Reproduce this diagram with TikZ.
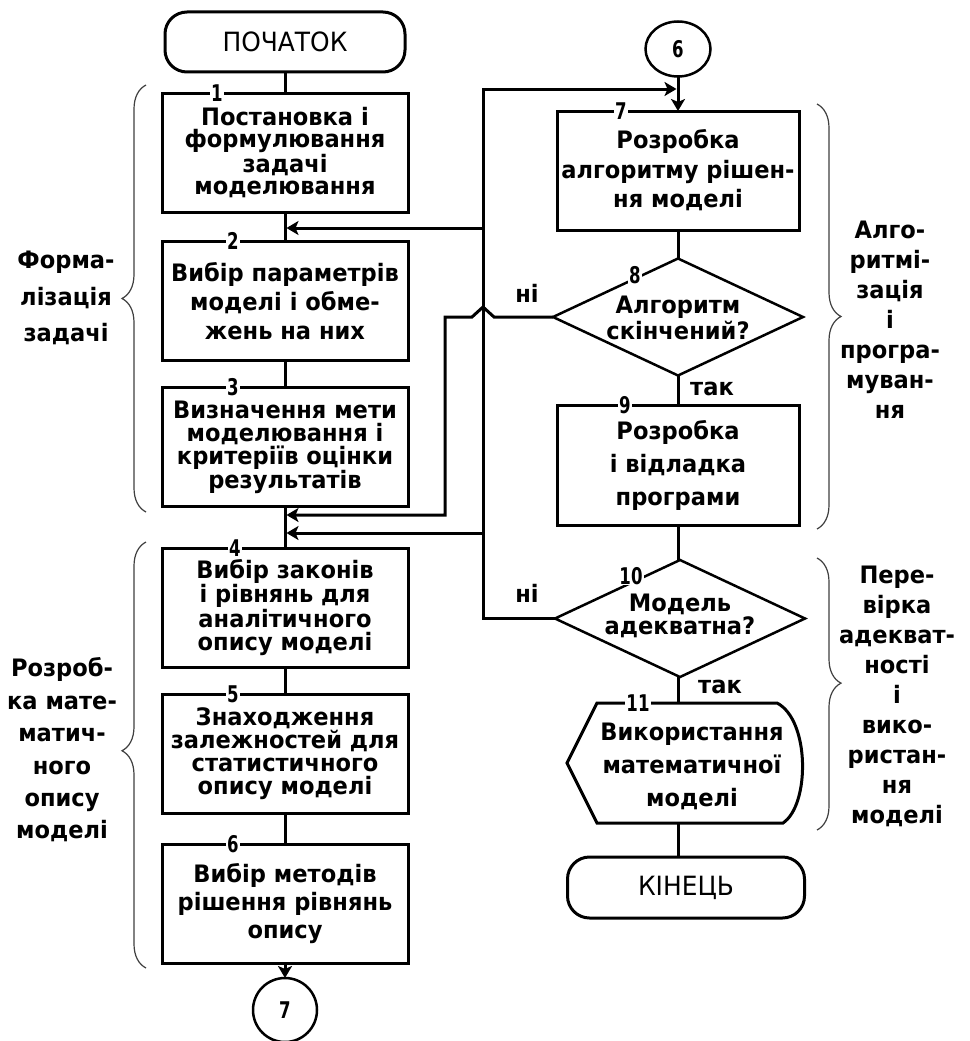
\documentclass[tikz,border=0pt]{standalone}
\usepackage{fontspec}
\setmainfont{DejaVu Sans}[FakeStretch=0.94]
\newfontfamily\numfont{DejaVu Sans}[FakeStretch=0.72]
\usetikzlibrary{shapes.geometric,arrows.meta,decorations.pathreplacing}
\begin{document}
\begin{tikzpicture}[x=1pt,y=-1pt,
  every node/.style={inner sep=0pt,outer sep=0pt},
  flow/.style={line width=3pt},
  arr/.style={flow,-{Stealth[length=12pt,width=14pt,inset=3pt]}},
  tx/.style={align=center,font=\bfseries\fontsize{24}{#1}\selectfont},
  proc/.style={draw,rectangle,line width=3pt,minimum width=246pt,minimum height=119pt},
  dia/.style={draw,diamond,line width=2.5pt,minimum width=250pt,minimum height=117pt},
  term/.style={draw,rectangle,rounded corners=22pt,line width=3pt,minimum width=240pt,minimum height=60pt,font=\fontsize{26.5}{26.5}\selectfont},
  conn/.style={draw,line width=2.5pt,font=\numfont\bfseries\fontsize{23}{23}\selectfont},
  numlbl/.style={fill=white,inner xsep=1.5pt,inner ysep=0.5pt,font=\numfont\bfseries\fontsize{23}{23}\selectfont},
  brc/.style={decorate,decoration={brace,amplitude=24pt,aspect=#1},line width=1.2pt,black!75}]
\fill[white] (0,0) rectangle (969,1041);
\useasboundingbox (0,0) rectangle (969,1041);

% left column
\node[term] (start) at (285,42) {ПОЧАТОК};
\node[proc,tx=22.5] (b1) at (285,152.5) {Постановка і\\формулювання\\задачі\\моделювання};
\node[proc,tx=29] (b2) at (285,301) {Вибір параметрів\\моделі і обме-\\жень на них};
\node[proc,tx=23] (b3) at (285,447) {Визначення мети\\моделювання і\\критеріїв оцінки\\результатів};
\node[proc,tx=23] (b4) at (285,607.5) {Вибір законів\\і рівнянь для\\аналітичного\\опису моделі};
\node[proc,tx=23] (b5) at (285,753.5) {Знаходження\\залежностей для\\статистичного\\опису моделі};
\node[proc,tx=28] (b6) at (285,903.5) {Вибір методів\\рішення рівнянь\\опису};
\node[conn,circle,minimum size=64pt] (c7) at (285,1010) {7};

% right column
\node[conn,ellipse,minimum width=65pt,minimum height=55pt] (c6) at (678,49) {6};
\node[proc,minimum width=242pt,tx=29.5] (b7) at (678,170.5) {Розробка\\алгоритму рішен-\\ня моделі};
\node[dia] (d8) at (678,317) {};
\node[tx=26] (t8) at (678,318) {Алгоритм\\скінчений?};
\node[proc,minimum width=242pt,minimum height=120pt,tx=33] (b9) at (678,465) {Розробка\\і відладка\\програми};
\node[dia] (d10) at (680,618.5) {};
\node[tx=23] (t10) at (680,616) {Модель\\адекватна?};
\draw[line width=3pt] (597,703) -- (777,703) .. controls (810,720) and (810,805) .. (783,823) -- (597,823) -- (567,763) -- cycle;
\node[tx=33] (u11) at (692,766) {Використання\\математичної\\моделі};
\coordinate (u11top) at (678,703);
\coordinate (u11bot) at (678,823);
\node[term,minimum width=237pt,minimum height=61pt] (end) at (686,887.5) {КІНЕЦЬ};

% main flow
\draw[flow] (start) -- (b1);
\draw[flow] (b1) -- (b2);
\draw[flow] (b2) -- (b3);
\draw[flow] (b3) -- (b4);
\draw[flow] (b4) -- (b5);
\draw[flow] (b5) -- (b6);
\draw[arr] (b6) -- (c7);
\draw[arr] (c6) -- (b7);
\draw[flow] (b7) -- (d8);
\draw[flow] (d8) -- (b9);
\draw[flow] (b9.south) -- (b9.south |- d10.north);
\draw[flow] (d10.south -| u11top) -- (u11top);
\draw[flow] (u11bot) -- (u11bot |- end.north);

% return paths
\coordinate (j7) at (676.5,89);
\coordinate (j12) at (286.5,228);
\coordinate (j34a) at (286.5,515);
\coordinate (j34b) at (286.5,533);
\draw[arr] (d10.west) -| (483,89) -- (j7);
\draw[arr] (483,228) -- (j12);
\draw[arr] (483,533) -- (j34b);
\draw[arr] (d8.west) -- (494,317) -- (483,307) -- (472,317) -- (445,317) -- (445,515) -- (j34a);

% branch labels
\node[tx=23] (no8) at (527,293) {ні};
\node[tx=23] (yes8) at (712,389) {так};
\node[tx=23] (no10) at (527,593) {ні};
\node[tx=23] (yes10) at (720,687) {так};

% block numbers
\node[numlbl] (n1) at (217,93) {1};
\node[numlbl] (n2) at (233,240.5) {2};
\node[numlbl] (n3) at (233,387) {3};
\node[numlbl] (n4) at (235,548) {4};
\node[numlbl] (n5) at (233,694) {5};
\node[numlbl] (n6) at (233,844) {6};
\node[numlbl] (n7) at (621,111) {7};
\node[numlbl] (n8) at (635,275) {8};
\node[numlbl] (n9) at (625,405) {9};
\node[numlbl] (n10) at (631,576) {10};
\node[numlbl] (n11) at (638,703) {11};

% braces and stage names
\draw[brc=0.5] (146,512) -- (146,85);
\draw[brc=0.51] (146,968) -- (146,542);
\draw[brc=0.5] (817,104) -- (817,529);
\draw[brc=0.46] (817,558) -- (817,830);
\node[tx=36.5] (s1) at (66,298) {Форма-\\лізація\\задачі};
\node[tx=32.4] (s2) at (62,750) {Розроб-\\ка мате-\\матич-\\ного\\опису\\моделі};
\node[tx=30] (s3) at (890,320) {Алго-\\ритмі-\\зація\\і\\програ-\\муван-\\ня};
\node[tx=30] (s4) at (897,696) {Пере-\\вірка\\адекват-\\ності\\і\\вико-\\ристан-\\ня\\моделі};
\end{tikzpicture}
\end{document}
